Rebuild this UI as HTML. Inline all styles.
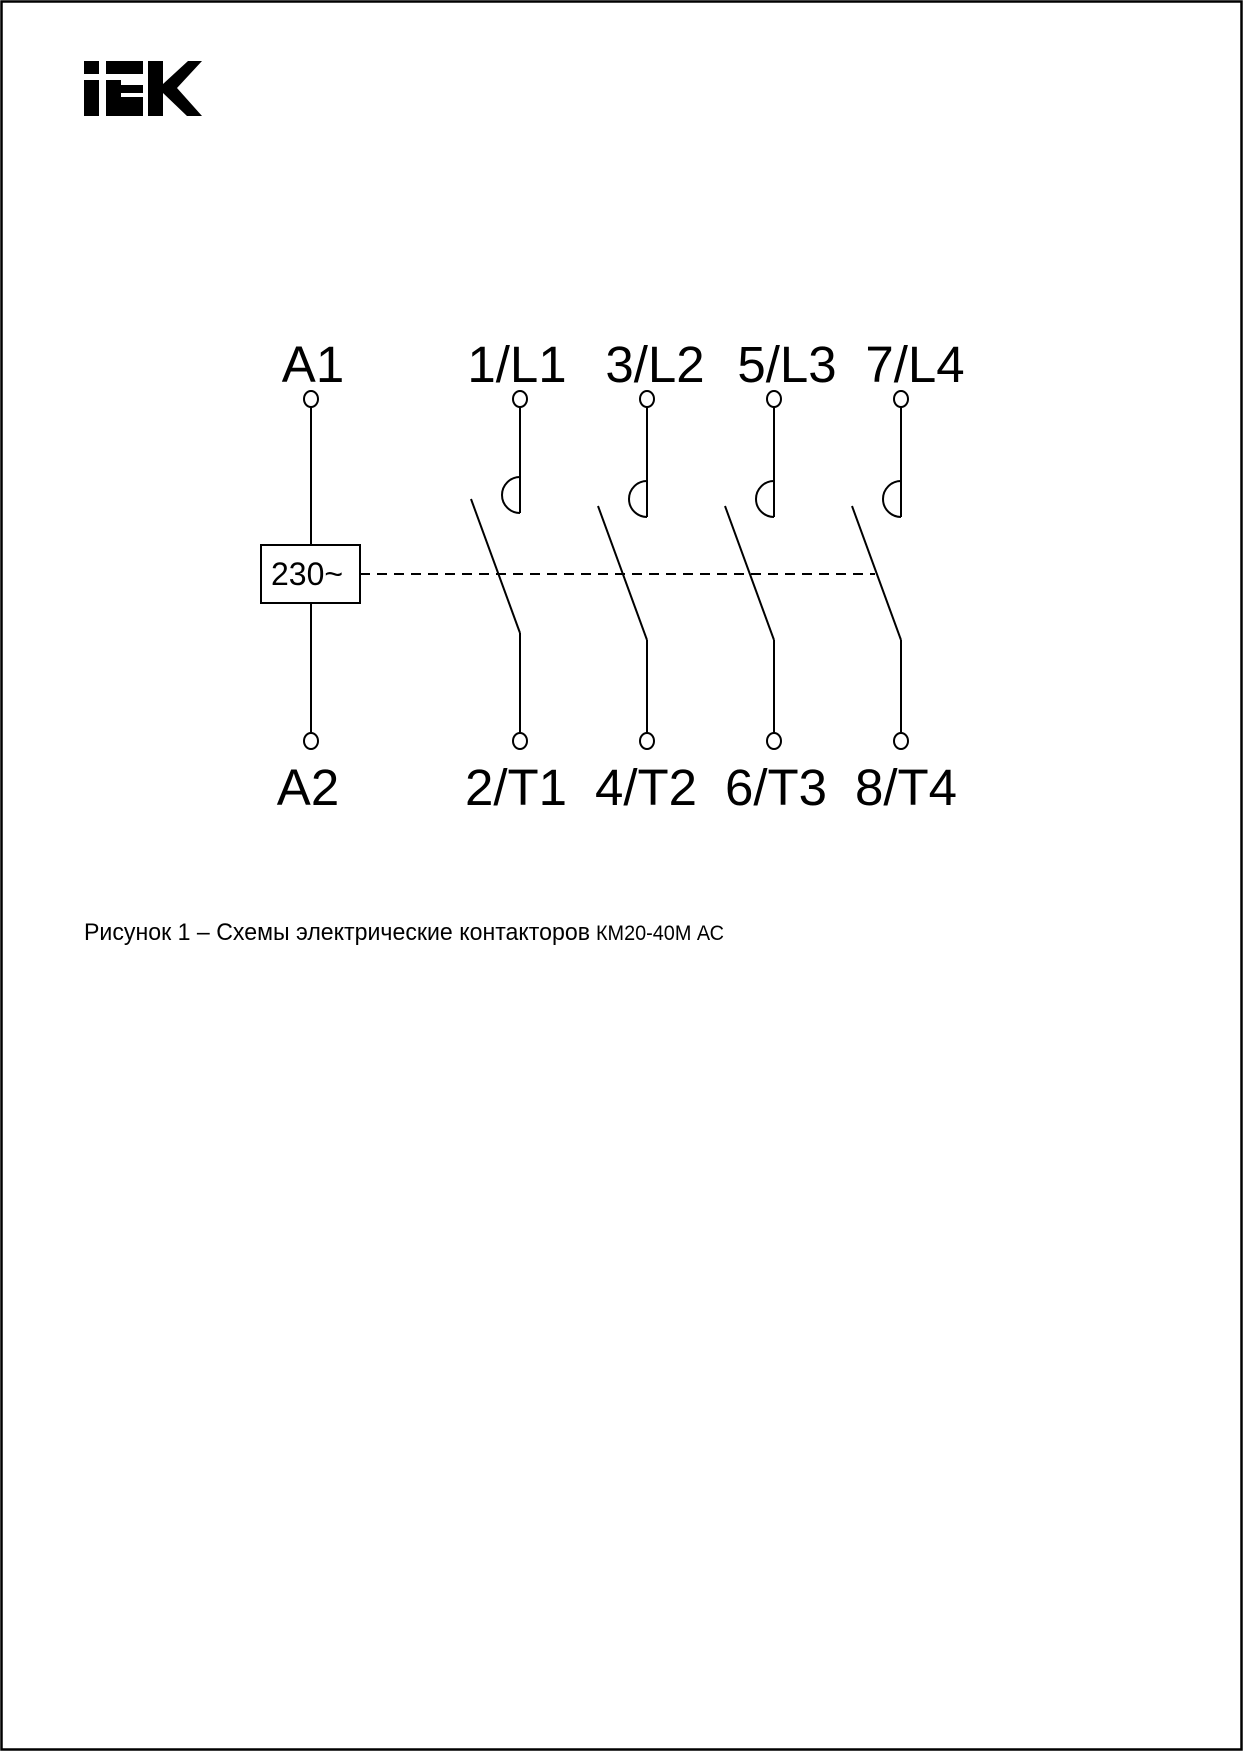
<!DOCTYPE html>
<html><head><meta charset="utf-8"><style>html,body{margin:0;padding:0;background:#fff}svg{display:block}</style></head>
<body>
<svg width="1244" height="1752" viewBox="0 0 1244 1752" xmlns="http://www.w3.org/2000/svg">
<rect x="1.5" y="1.5" width="1240" height="1748" fill="#fff" stroke="#000" stroke-width="2.5"/>
<g fill="#000">
<rect x="84" y="61" width="15" height="13"/>
<rect x="84" y="80" width="15" height="36"/>
<rect x="106" y="61" width="37" height="13"/>
<rect x="106" y="80" width="15" height="36"/>
<rect x="106" y="85" width="37" height="8"/>
<rect x="106" y="97" width="37" height="19"/>
<rect x="148" y="61" width="15" height="55"/>
<polygon points="163,84 188,61 202,61 177,88 202,116 187,116 163,93"/>
</g>
<g fill="none" stroke="#000" stroke-width="2">
<ellipse cx="311" cy="399" rx="7" ry="8"/>
<line x1="311" y1="407" x2="311" y2="545"/>
<rect x="261" y="545" width="99" height="58"/>
<line x1="311" y1="603" x2="311" y2="733"/>
<ellipse cx="311" cy="741" rx="7" ry="8"/>
<line x1="360" y1="574" x2="875" y2="574" stroke-dasharray="10,7"/>
<ellipse cx="520" cy="399" rx="7" ry="8"/>
<line x1="520" y1="407" x2="520" y2="513"/>
<path d="M520 477 A18 18 0 0 0 520 513"/>
<line x1="471" y1="499" x2="520" y2="633"/>
<line x1="520" y1="633" x2="520" y2="733"/>
<ellipse cx="520" cy="741" rx="7" ry="8"/>
<ellipse cx="647" cy="399" rx="7" ry="8"/>
<line x1="647" y1="407" x2="647" y2="517"/>
<path d="M647 481 A18 18 0 0 0 647 517"/>
<line x1="598" y1="506" x2="647" y2="640"/>
<line x1="647" y1="640" x2="647" y2="733"/>
<ellipse cx="647" cy="741" rx="7" ry="8"/>
<ellipse cx="774" cy="399" rx="7" ry="8"/>
<line x1="774" y1="407" x2="774" y2="517"/>
<path d="M774 481 A18 18 0 0 0 774 517"/>
<line x1="725" y1="506" x2="774" y2="640"/>
<line x1="774" y1="640" x2="774" y2="733"/>
<ellipse cx="774" cy="741" rx="7" ry="8"/>
<ellipse cx="901" cy="399" rx="7" ry="8"/>
<line x1="901" y1="407" x2="901" y2="517"/>
<path d="M901 481 A18 18 0 0 0 901 517"/>
<line x1="852" y1="506" x2="901" y2="640"/>
<line x1="901" y1="640" x2="901" y2="733"/>
<ellipse cx="901" cy="741" rx="7" ry="8"/>
</g>
<g font-family="Liberation Sans, sans-serif" fill="#000">
<text x="271" y="585" font-size="32">230~</text>
<g font-size="51" text-anchor="middle">
<text x="313" y="382">A1</text>
<text x="517" y="382">1/L1</text>
<text x="655" y="382">3/L2</text>
<text x="787" y="382">5/L3</text>
<text x="915" y="382">7/L4</text>
<text x="308" y="805">A2</text>
<text x="516" y="805">2/T1</text>
<text x="646" y="805">4/T2</text>
<text x="776" y="805">6/T3</text>
<text x="906" y="805">8/T4</text>
</g>
<text x="84" y="940" font-size="24" textLength="506" lengthAdjust="spacingAndGlyphs">Рисунок 1 – Схемы электрические контакторов</text>
<text x="596" y="940" font-size="21" textLength="128" lengthAdjust="spacingAndGlyphs">КМ20-40М АС</text>
</g>
</svg>
</body></html>
